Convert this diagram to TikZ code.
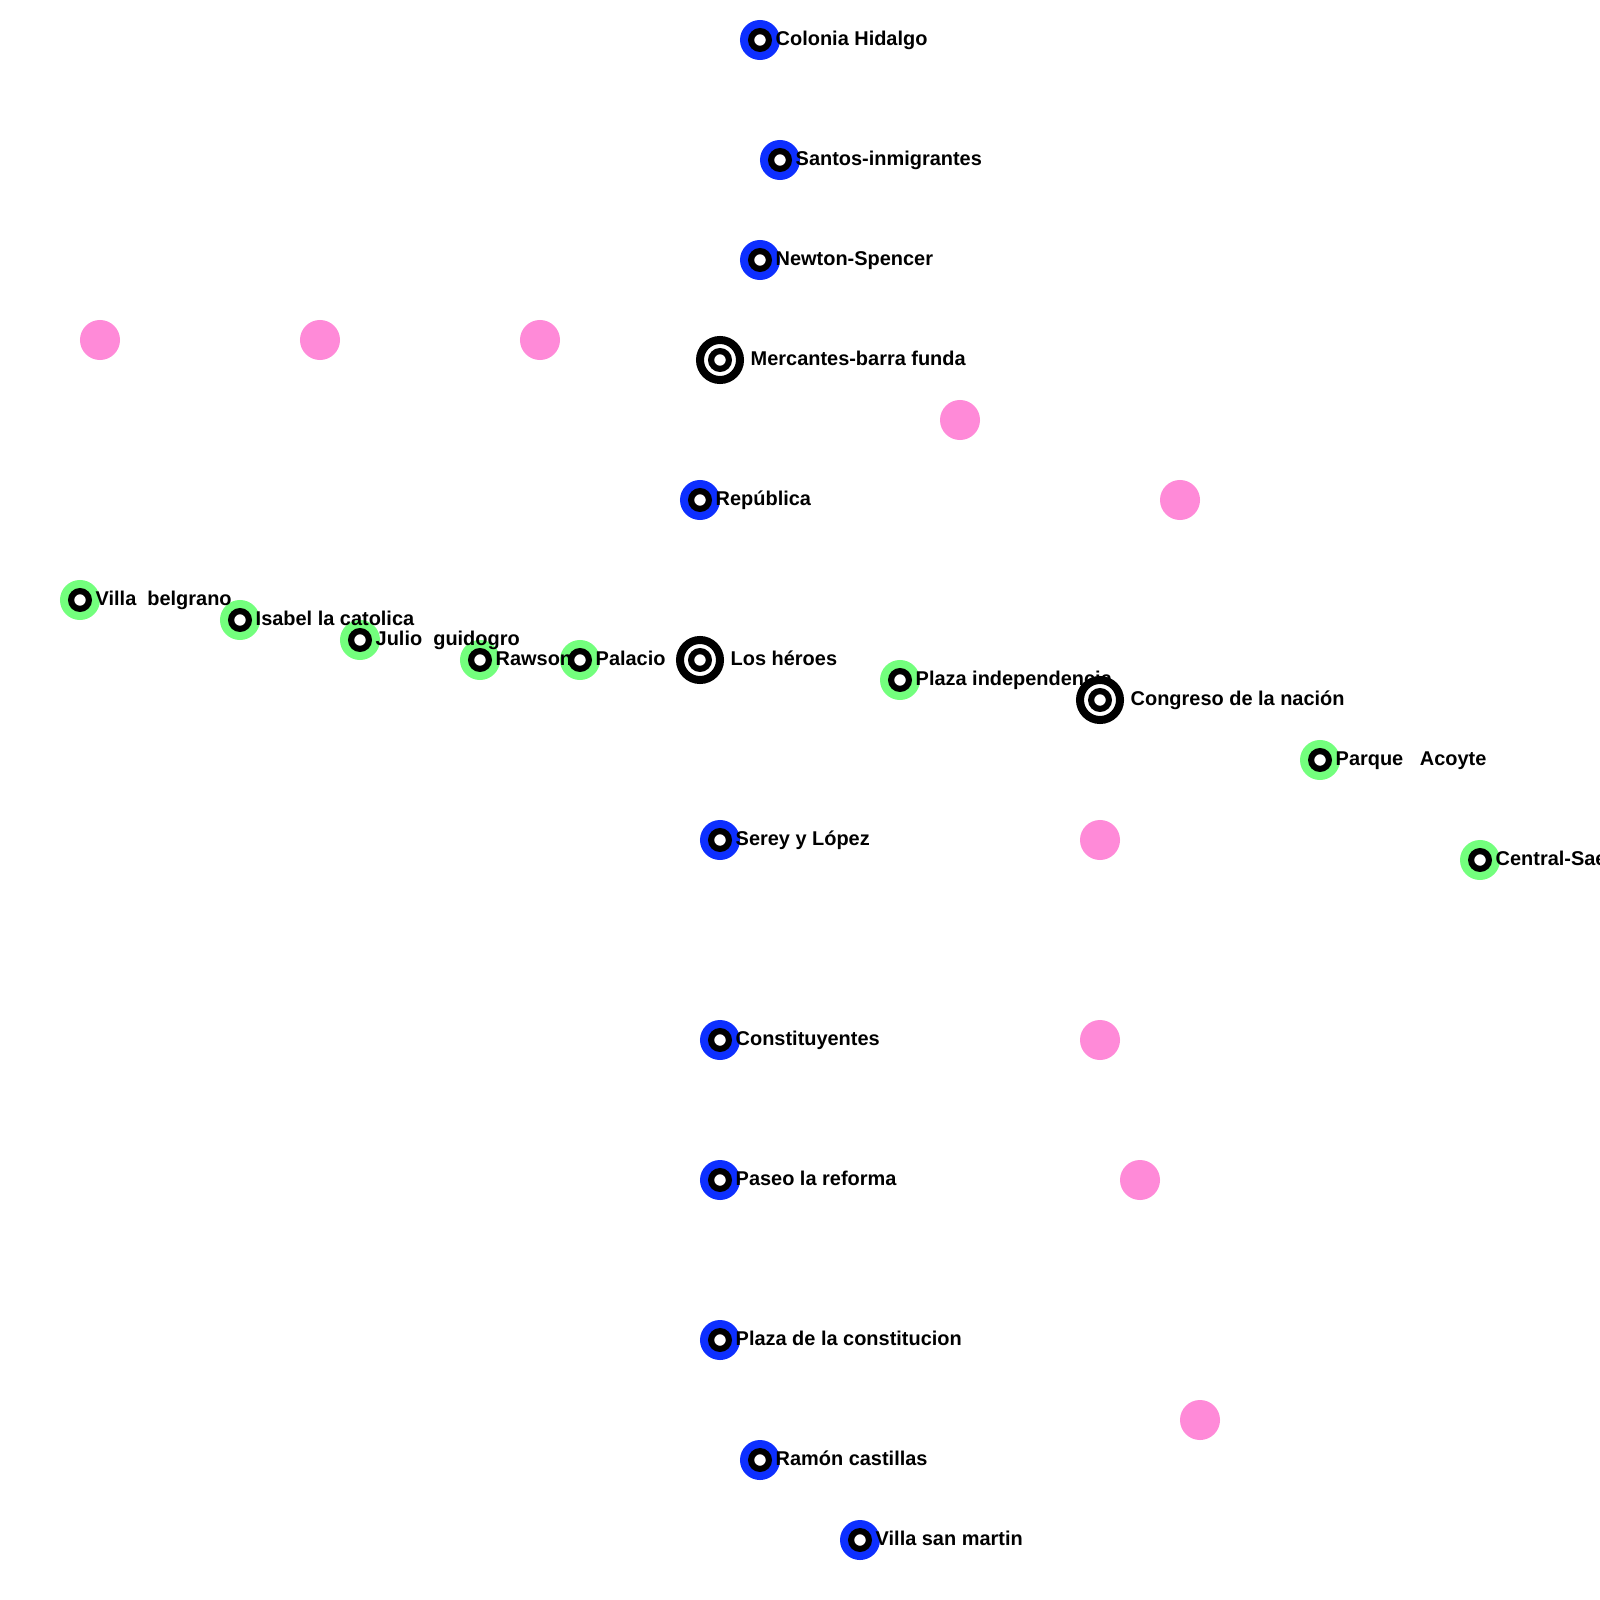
\documentclass[tikz,border=0pt]{standalone}
\usepackage{fontspec}
\setmainfont{Liberation Sans}
\usepackage{xcolor}
\definecolor{lineblue}{RGB}{13,47,255}
\definecolor{linegreen}{RGB}{115,255,125}
\definecolor{linepink}{RGB}{255,138,216}

\begin{document}
\begin{tikzpicture}[
  x=0.01cm, y=-0.01cm,
  hole/.style={circle, draw=black, line width=0.061cm, fill=white, minimum size=0.178cm, inner sep=0pt},
  bluestop/.style={circle, fill=lineblue, minimum size=0.4cm, inner sep=0pt},
  greenstop/.style={circle, fill=linegreen, minimum size=0.4cm, inner sep=0pt},
  pinkstop/.style={circle, fill=linepink, minimum size=0.4cm, inner sep=0pt},
  hub/.style={circle, draw=black, line width=0.08cm, fill=white, minimum size=0.4cm, inner sep=0pt},
  stoplabel/.style={anchor=base west, inner sep=0pt, font=\fontsize{5.67pt}{7pt}\selectfont\bfseries}
]
\useasboundingbox (0,0) rectangle (1600,1600);
% blue line
\foreach \nm/\px/\py in {colonia/760/40, santos/780/160, newton/760/260, republica/700/500, serey/720/840, constituyentes/720/1040, paseo/720/1180, plazacons/720/1340, ramon/760/1460, sanmartin/860/1540} {
  \node[bluestop] (\nm) at (\px,\py) {};
  \node[hole] (\nm-in) at (\nm) {};
}
% green line
\foreach \nm/\px/\py in {belgrano/80/600, isabel/240/620, julio/360/640, rawson/480/660, palacio/580/660, plazaind/900/680, parque/1320/760, central/1480/860} {
  \node[greenstop] (\nm) at (\px,\py) {};
  \node[hole] (\nm-in) at (\nm) {};
}
% pink line
\foreach \nm/\px/\py in {pa/100/340, pb/320/340, pc/540/340, pd/960/420, pe/1180/500, pf/1100/840, pg/1100/1040, ph/1140/1180, pi/1200/1420} {
  \node[pinkstop] (\nm) at (\px,\py) {};
}
% labels
\foreach \nm/\txt in {colonia/Colonia Hidalgo, santos/Santos-inmigrantes, newton/Newton-Spencer, republica/República, serey/Serey y López, constituyentes/Constituyentes, paseo/Paseo la reforma, plazacons/Plaza de la constitucion, ramon/Ramón castillas, sanmartin/Villa san martin, belgrano/Villa\ \ belgrano, isabel/Isabel la catolica, julio/Julio\ \ guidogro, rawson/Rawson, palacio/Palacio, plazaind/Plaza independencia, parque/Parque\ \ \ Acoyte, central/Central-Sae} {
  \node[stoplabel] (\nm-txt) at ([xshift=0.15cm,yshift=-0.05cm]\nm.center) {\txt};
}
% transfer stations
\foreach \nm/\px/\py/\txt in {mercantes/720/360/Mercantes-barra funda, heroes/700/660/Los héroes, congreso/1100/700/Congreso de la nación} {
  \node[hub] (\nm) at (\px,\py) {};
  \node[hole] (\nm-in) at (\nm) {};
  \node[stoplabel] (\nm-txt) at ([xshift=0.3cm,yshift=-0.05cm]\nm.center) {\txt};
}
\end{tikzpicture}
\end{document}
